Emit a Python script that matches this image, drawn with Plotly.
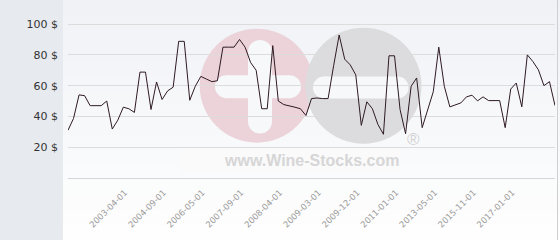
import plotly.graph_objects as go

# ---- data ----
prices = [31, 38.7, 54, 53.5, 47, 47, 47, 50, 31.8, 37.6, 46, 45, 42.6, 68.8, 68.8, 44.5,
          62.4, 51, 56.6, 59, 88.8, 88.8, 50.5,
          59.6, 66, 64.3, 62.6, 63.2, 85, 85, 85, 90, 85, 75, 70, 45, 45, 86, 50, 47.7,
          47, 46, 45, 40.6, 51.6,
          52, 51.6, 51.6, 73, 92.9, 77.2, 73.5, 67, 34.2, 49.5, 45, 34.8, 28.4, 79.4, 79.4,
          44.5, 28.8, 59.6, 65, 32.7, 44.5, 56,
          85, 59.6, 46.2, 47.7, 48.8, 52.7, 53.8, 50.1, 52.7, 50.3, 50.3, 50.3, 32.7, 57.8,
          61.7, 46.2, 80, 75.7, 70.3, 60, 62.6, 47]
tick_positions = [11, 18, 25, 32, 39, 46, 53, 60, 67, 74, 81]
tick_labels = ["2003-04-01", "2004-09-01", "2006-05-01", "2007-09-01", "2008-04-01",
               "2009-03-01", "2009-12-01", "2011-01-01", "2013-05-01", "2015-11-01",
               "2017-01-01"]
y_ticks = [20, 40, 60, 80, 100]
y_tick_labels = ["20 $", "40 $", "60 $", "80 $", "100 $"]

W, H = 560, 240
ML, MR, MT, MB = 68, 5, 1, 62
PW = W - ML - MR
PH = H - MT - MB


def px(x):
    return (x - ML) / PW


def py(y):
    return (H - MB - y) / PH


fig = go.Figure()
fig.add_trace(go.Scatter(
    x=list(range(len(prices))), y=prices, mode="lines",
    line=dict(color="#2e1a24", width=1), hoverinfo="skip", showlegend=False))

shapes = []
# gradient background to the right of the side panel
n_bands = 16
top = (240, 242, 246)
bot = (254, 254, 254)
for i in range(n_bands):
    t = i / (n_bands - 1)
    c = tuple(round(top[j] + (bot[j] - top[j]) * t) for j in range(3))
    y0 = i * H / n_bands
    y1 = (i + 1) * H / n_bands + 0.5
    shapes.append(dict(type="rect", xref="paper", yref="paper", layer="below",
                       x0=px(63), x1=px(W + 2), y0=py(y1), y1=py(y0),
                       fillcolor="rgb(%d,%d,%d)" % c, line=dict(width=0)))
shapes.append(dict(type="line", xref="paper", yref="paper", layer="below",
                   x0=px(557.5), x1=px(557.5), y0=py(H), y1=py(0),
                   line=dict(color="#cfcfcf", width=1)))

# watermark logo
def circle(cx, cy, r, color):
    return dict(type="circle", xref="paper", yref="paper", layer="below",
                x0=px(cx - r), x1=px(cx + r), y0=py(cy + r), y1=py(cy - r),
                fillcolor=color, line=dict(width=0))


def rect(x0, y0, x1, y1, color):
    return dict(type="rect", xref="paper", yref="paper", layer="below",
                x0=px(x0), x1=px(x1), y0=py(y1), y1=py(y0),
                fillcolor=color, line=dict(width=0))


def stadium_h(x0, x1, yc, h, color):
    r = h / 2
    return [rect(x0 + r, yc - r, x1 - r, yc + r, color),
            circle(x0 + r, yc, r, color), circle(x1 - r, yc, r, color)]


def stadium_v(xc, y0, y1, w, color):
    r = w / 2
    return [rect(xc - r, y0 + r, xc + r, y1 - r, color),
            circle(xc, y0 + r, r, color), circle(xc, y1 - r, r, color)]


WM = "#f7f8fa"
shapes.append(rect(180, 149, 400, 173, "#fafafb"))
shapes.append(circle(256.7, 85.7, 57, "#ebd3d9"))
shapes.append(circle(363.5, 85.7, 58, "#dcdcde"))
shapes += stadium_h(215, 301, 86.7, 23, WM)
shapes += stadium_v(260, 40, 133.5, 24, WM)
shapes += stadium_h(313, 408.5, 87.5, 22, WM)

fig.update_layout(
    width=W, height=H,
    margin=dict(l=ML, r=MR, t=MT, b=MB, pad=0),
    paper_bgcolor="#e7eaee",
    plot_bgcolor="rgba(0,0,0,0)",
    shapes=shapes,
    annotations=[
        dict(text="<b>www.Wine-Stocks.com</b>", xref="paper", yref="paper",
             x=px(311.7), y=py(160.7), showarrow=False,
             font=dict(family="Liberation Sans", size=16, color="#d6d6d6"),
             xanchor="center", yanchor="middle"),
        dict(text="®", xref="paper", yref="paper", x=px(413), y=py(139.5),
             showarrow=False, font=dict(family="Liberation Sans", size=17, color="#d2d2d2"),
             xanchor="center", yanchor="middle"),
    ],
    xaxis=dict(range=[0, len(prices) - 1], tickmode="array",
               tickvals=tick_positions, ticktext=tick_labels, tickangle=-45,
               showgrid=False, zeroline=False, showline=False, ticks="",
               ticklabelstandoff=7, ticklabelshift=-4,
               tickfont=dict(family="DejaVu Sans", size=8.5, color="#9b9b9b"),
               fixedrange=True),
    yaxis=dict(range=[0, 115], tickmode="array", tickvals=y_ticks,
               ticktext=y_tick_labels, showgrid=True, gridcolor="#dcdcdc", gridwidth=1,
               zeroline=True, zerolinecolor="#d6d6d6", zerolinewidth=1,
               showline=False, ticks="", ticklabelstandoff=9,
               tickfont=dict(family="DejaVu Sans", size=11, color="#333333"),
               fixedrange=True),
    showlegend=False,
)

fig.write_html("out.html", config={"displayModeBar": False})
